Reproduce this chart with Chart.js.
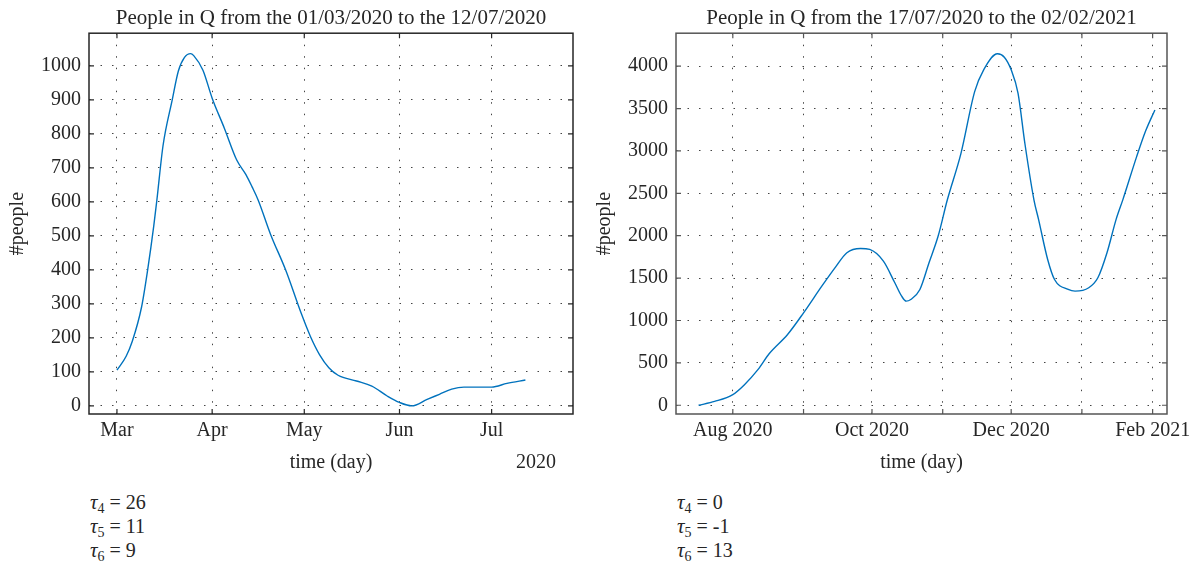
<!DOCTYPE html>
<html>
<head>
<meta charset="utf-8">
<script src="https://cdn.jsdelivr.net/npm/chart.js@4.4.1/dist/chart.umd.min.js"></script>
<style>
  body { margin: 0; background: #fff; width: 1199px; height: 567px; position: relative; overflow: hidden;
         font-family: "Liberation Serif", serif; color: #262626; }
  .box { position: absolute; top: 0; }
  .tau { position: absolute; top: 490px; font-size: 20px; line-height: 24px; }
  .tau i { font-style: italic; font-size: 21px; }
  .tau sub { font-size: 14px; vertical-align: -4px; line-height: 0; }
</style>
</head>
<body>
<div class="box" style="left:0"><canvas id="left" width="600" height="480"></canvas></div>
<div class="box" style="left:590px"><canvas id="right" width="609" height="480"></canvas></div>
<div class="tau" style="left:90px">
  <div><i>τ</i><sub>4</sub> = 26</div>
  <div><i>τ</i><sub>5</sub> = 11</div>
  <div><i>τ</i><sub>6</sub> = 9</div>
</div>
<div class="tau" style="left:677px">
  <div><i>τ</i><sub>4</sub> = 0</div>
  <div><i>τ</i><sub>5</sub> = -1</div>
  <div><i>τ</i><sub>6</sub> = 13</div>
</div>
<script>
// first period, 01/03/2020 - 12/07/2020
var leftDates = ["2020-03-01","2020-03-04","2020-03-06","2020-03-09","2020-03-11","2020-03-13","2020-03-14",
  "2020-03-16","2020-03-19","2020-03-21","2020-03-23","2020-03-25","2020-03-26","2020-03-29","2020-04-01",
  "2020-04-05","2020-04-09","2020-04-12","2020-04-14","2020-04-16","2020-04-20","2020-04-25","2020-04-30",
  "2020-05-03","2020-05-06","2020-05-09","2020-05-12","2020-05-18","2020-05-23","2020-05-28","2020-06-01",
  "2020-06-05","2020-06-10","2020-06-14","2020-06-18","2020-06-22","2020-06-27","2020-07-01","2020-07-06",
  "2020-07-12"];
var leftPeople = [105,146,190,290,400,530,605,
  765,900,985,1025,1036,1030,987,905,
  816,723,680,644,605,505,398,272,
  204,150,112,90,73,58,29,10,
  0,19,34,49,55,55,55,66,
  76];
var leftTicks = ["2020-03-01","2020-04-01","2020-05-01","2020-06-01","2020-07-01"];
var leftTickLabels = ["Mar","Apr","May","Jun","Jul"];
var leftYTicks = [0,100,200,300,400,500,600,700,800,900,1000];

// second period, 17/07/2020 - 02/02/2021
var rightDates = ["2020-07-17","2020-07-24","2020-08-01","2020-08-06","2020-08-12","2020-08-17","2020-08-25",
  "2020-09-01","2020-09-09","2020-09-15","2020-09-20","2020-09-26","2020-09-30","2020-10-06","2020-10-11",
  "2020-10-14","2020-10-16","2020-10-18","2020-10-22","2020-10-26","2020-10-30","2020-11-03","2020-11-09",
  "2020-11-15","2020-11-19","2020-11-25","2020-11-28","2020-12-01","2020-12-04","2020-12-07","2020-12-11",
  "2020-12-13","2020-12-17","2020-12-20","2020-12-26","2020-12-29","2021-01-04","2021-01-08","2021-01-12",
  "2021-01-16","2021-01-19","2021-01-25","2021-01-29","2021-02-02"];
var rightPeople = [0,45,126,240,420,610,835,
  1090,1405,1630,1800,1850,1838,1700,1445,
  1287,1228,1248,1366,1681,1996,2421,2972,
  3700,3960,4146,4106,3957,3681,3091,2421,
  2193,1720,1484,1366,1346,1386,1504,1799,
  2193,2429,2933,3240,3484];
var rightTicks = ["2020-08-01","2020-09-01","2020-10-01","2020-11-01","2020-12-01","2021-01-01","2021-02-01"];
var rightTickLabels = ["Aug 2020","","Oct 2020","","Dec 2020","","Feb 2021"];
var rightYTicks = [0,500,1000,1500,2000,2500,3000,3500,4000];

function day(s) {
  var p = s.split("-");
  return Date.UTC(+p[0], p[1] - 1, +p[2]) / 864e5;
}

var font = "Liberation Serif";

// matlab style box with inward ticks
var frame = {
  id: "frame",
  afterDraw: function(chart, args, o) {
    var a = chart.chartArea, c = chart.ctx;
    var sx = chart.scales.x, sy = chart.scales.y;
    c.save();
    c.strokeStyle = o.color;
    c.lineWidth = 1.5;
    c.strokeRect(a.left, a.top, a.right - a.left, a.bottom - a.top);
    c.lineWidth = 1.2;
    c.beginPath();
    sx.ticks.forEach(function(t) {
      var px = sx.getPixelForValue(t.value);
      c.moveTo(px, a.bottom); c.lineTo(px, a.bottom - 5);
      c.moveTo(px, a.top); c.lineTo(px, a.top + 5);
    });
    sy.ticks.forEach(function(t) {
      var py = sy.getPixelForValue(t.value);
      c.moveTo(a.left, py); c.lineTo(a.left + 5, py);
      c.moveTo(a.right, py); c.lineTo(a.right - 5, py);
    });
    c.stroke();
    if (o.year) {
      c.fillStyle = "#262626";
      c.font = "20px '" + font + "'";
      c.textAlign = "center";
      c.textBaseline = "middle";
      c.fillText(o.year, a.right - 37, a.bottom + 49);
    }
    c.restore();
  }
};

function makeChart(id, cfg) {
  return new Chart(document.getElementById(id), {
    type: "line",
    data: {
      datasets: [{
        data: cfg.dates.map(function(d, i) { return { x: day(d), y: cfg.values[i] }; }),
        borderColor: "#0072BD",
        borderWidth: 1.4,
        pointRadius: 0,
        fill: false,
        cubicInterpolationMode: "monotone"
      }]
    },
    options: {
      responsive: false,
      animation: false,
      layout: { padding: { left: 0, right: cfg.padRight, top: 0, bottom: 0 } },
      plugins: {
        legend: { display: false },
        tooltip: { enabled: false },
        title: {
          display: true,
          text: cfg.title,
          fullSize: false,
          color: "#262626",
          font: { family: font, size: 21, weight: "normal" },
          padding: { top: 6, bottom: 2 }
        },
        frame: { color: cfg.frameColor, year: cfg.year }
      },
      scales: {
        x: {
          type: "linear",
          min: cfg.xMin,
          max: cfg.xMax,
          afterFit: function(s) { s.height = 66; },
          afterBuildTicks: function(s) {
            s.ticks = cfg.ticks.map(function(d) { return { value: day(d) }; });
          },
          ticks: {
            autoSkip: false,
            maxRotation: 0,
            padding: 5,
            color: "#262626",
            font: { family: font, size: 20 },
            callback: function(v, i) { return cfg.tickLabels[i]; }
          },
          grid: { color: "#444", lineWidth: 1, drawTicks: false, borderDash: [1.5, 10] },
          border: { display: false, dash: [1.5, 10] },
          title: {
            display: true,
            text: "time (day)",
            color: "#262626",
            font: { family: font, size: 20 },
            padding: { top: 0, bottom: 5 }
          }
        },
        y: {
          min: cfg.yMin,
          max: cfg.yMax,
          afterFit: function(s) { s.width = cfg.yWidth; },
          afterBuildTicks: function(s) {
            s.ticks = cfg.yTicks.map(function(v) { return { value: v }; });
          },
          ticks: {
            padding: 8,
            color: "#262626",
            font: { family: font, size: 20 },
            callback: function(v) { return String(v); }
          },
          grid: { color: "#444", lineWidth: 1, drawTicks: false, borderDash: [1.5, 10] },
          border: { display: false, dash: [1.5, 10] },
          title: {
            display: true,
            text: "#people",
            color: "#262626",
            font: { family: font, size: 20 },
            padding: { top: cfg.yTitlePad, bottom: 0 }
          }
        }
      }
    },
    plugins: [frame]
  });
}

makeChart("left", {
  dates: leftDates, values: leftPeople,
  title: "People in Q from the 01/03/2020 to the 12/07/2020",
  ticks: leftTicks, tickLabels: leftTickLabels, yTicks: leftYTicks,
  xMin: day("2020-03-01") - 9.1, xMax: day("2020-03-01") + 148.5,
  yMin: -24, yMax: 1096,
  yWidth: 89, padRight: 27, yTitlePad: 6,
  frameColor: "#262626", year: "2020"
});

makeChart("right", {
  dates: rightDates, values: rightPeople,
  title: "People in Q from the 17/07/2020 to the 02/02/2021",
  ticks: rightTicks, tickLabels: rightTickLabels, yTicks: rightYTicks,
  xMin: day("2020-08-01") - 24.9, xMax: day("2021-02-01") + 6.3,
  yMin: -103, yMax: 4389,
  yWidth: 86, padRight: 32, yTitlePad: 3,
  frameColor: "#555", year: null
});
</script>
</body>
</html>
